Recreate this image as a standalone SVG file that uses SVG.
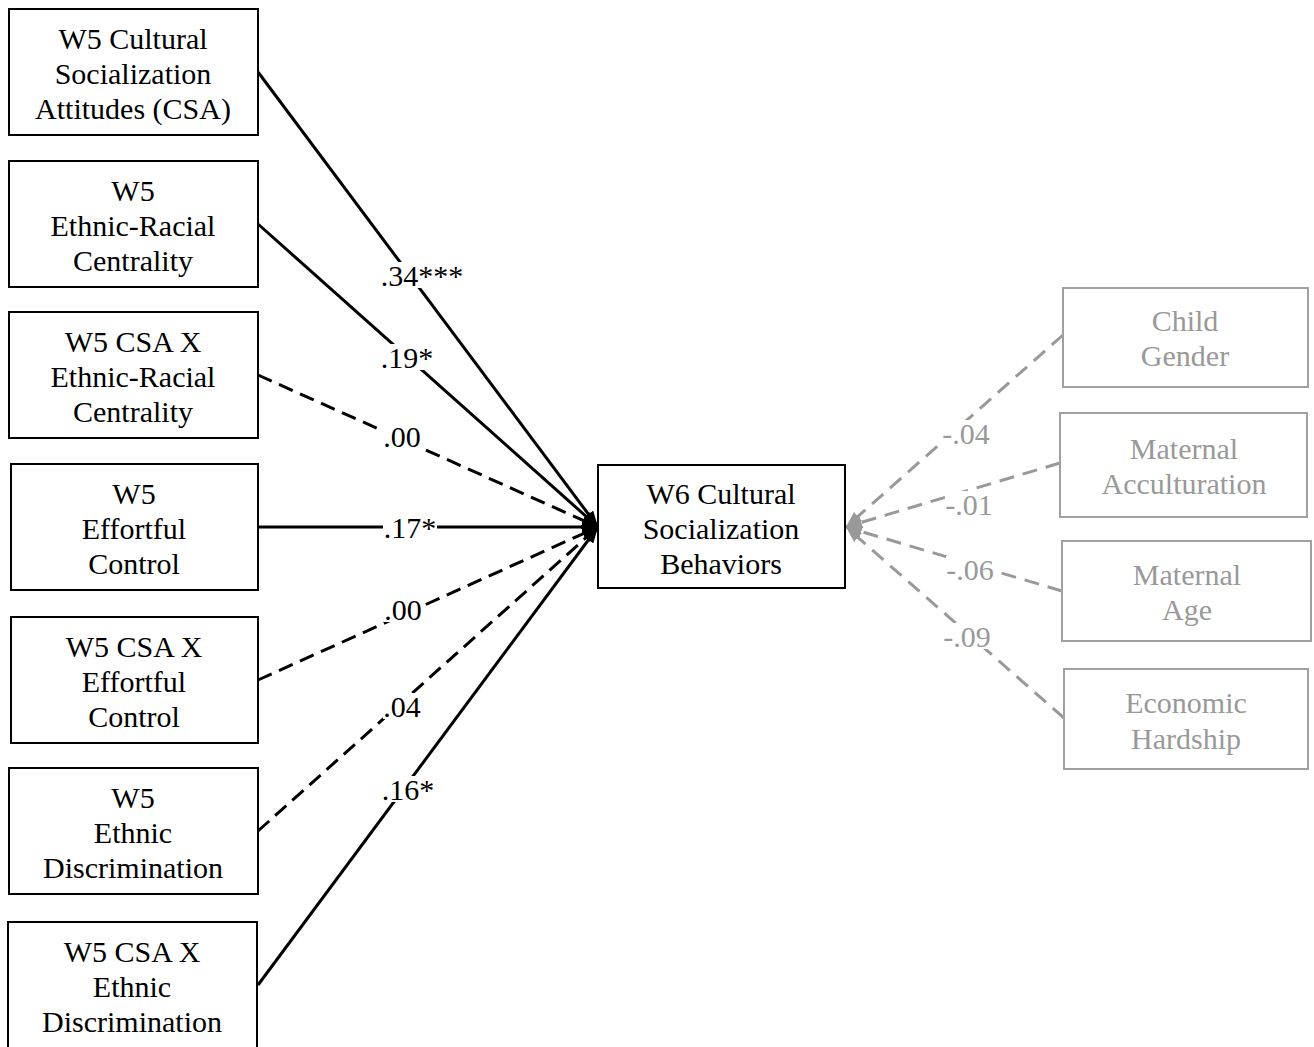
<svg xmlns="http://www.w3.org/2000/svg" width="1314" height="1047" viewBox="0 0 1314 1047">
<style>
.box{fill:#fff;stroke:#000;stroke-width:2px}
.gbox{fill:#fff;stroke:#a0a0a0;stroke-width:2px}
.t{font-family:"Liberation Serif","Times New Roman",serif;font-size:30px;text-anchor:middle;fill:#000}
.gt{font-family:"Liberation Serif","Times New Roman",serif;font-size:30px;text-anchor:middle;fill:#999}
.bg{fill:#fff;stroke:none}
.s{fill:none;stroke:#000;stroke-width:3px;marker-end:url(#ah)}
.d{fill:none;stroke:#000;stroke-width:3px;stroke-dasharray:15px 8px;marker-end:url(#ah)}
.g{fill:none;stroke:#999;stroke-width:3px;stroke-dasharray:15px 9px;marker-end:url(#gah)}
</style>
<defs>
<marker id="ah" viewBox="0 0 16 12" refX="16" refY="6" markerWidth="16" markerHeight="12" markerUnits="userSpaceOnUse" orient="auto">
<path d="M0,0 L16,6 L0,12 Z" fill="#000"/>
</marker>
<marker id="gah" viewBox="0 0 16 12" refX="16" refY="6" markerWidth="16" markerHeight="12" markerUnits="userSpaceOnUse" orient="auto">
<path d="M0,0 L16,6 L0,12 Z" fill="#999"/>
</marker>
</defs>
<rect width="1314" height="1047" fill="#fff"/>
<g id="connectors">
<line class="s" x1="258" y1="72" x2="598" y2="527"/>
<line class="s" x1="258" y1="224" x2="598" y2="527"/>
<line class="d" x1="258" y1="375" x2="598" y2="527"/>
<line class="s" x1="258" y1="527" x2="598" y2="527"/>
<line class="d" x1="258" y1="680" x2="598" y2="527"/>
<line class="d" x1="258" y1="831" x2="598" y2="527"/>
<line class="s" x1="258" y1="985" x2="598" y2="527"/>
<line class="g" x1="1063" y1="335" x2="846" y2="527"/>
<line class="g" x1="1060" y1="463" x2="846" y2="527"/>
<line class="g" x1="1062" y1="591" x2="846" y2="527"/>
<line class="g" x1="1064" y1="718" x2="846" y2="527"/>
<rect class="bg" x="380" y="262" width="84" height="26"/>
<rect class="bg" x="380" y="344" width="54" height="26"/>
<rect class="bg" x="383" y="423" width="38" height="26"/>
<rect class="bg" x="383" y="514" width="54" height="26"/>
<rect class="bg" x="384" y="596" width="38" height="26"/>
<rect class="bg" x="383" y="693" width="38" height="26"/>
<rect class="bg" x="381" y="776" width="54" height="26"/>
<rect class="bg" x="942" y="420" width="48" height="26"/>
<rect class="bg" x="945" y="491" width="48" height="26"/>
<rect class="bg" x="946" y="556" width="48" height="26"/>
<rect class="bg" x="943" y="623" width="48" height="26"/>
<text class="t" x="422" y="286">.34***</text>
<text class="t" x="407" y="368">.19*</text>
<text class="t" x="402" y="447">.00</text>
<text class="t" x="410" y="538">.17*</text>
<text class="t" x="403" y="620">.00</text>
<text class="t" x="402" y="717">.04</text>
<text class="t" x="408" y="800">.16*</text>
<text class="gt" x="966" y="444">-.04</text>
<text class="gt" x="969" y="515">-.01</text>
<text class="gt" x="970" y="580">-.06</text>
<text class="gt" x="967" y="647">-.09</text>
</g>
<g id="n1"><rect class="box" x="9" y="9" width="249" height="126"/>
<text class="t" x="133" y="49">W5 Cultural</text><text class="t" x="133" y="84">Socialization</text><text class="t" x="133" y="119">Attitudes (CSA)</text></g>
<g id="n2"><rect class="box" x="9" y="161" width="249" height="126"/>
<text class="t" x="133" y="201">W5</text><text class="t" x="133" y="236">Ethnic-Racial</text><text class="t" x="133" y="271">Centrality</text></g>
<g id="n3"><rect class="box" x="9" y="312" width="249" height="126"/>
<text class="t" x="133" y="352">W5 CSA X</text><text class="t" x="133" y="387">Ethnic-Racial</text><text class="t" x="133" y="422">Centrality</text></g>
<g id="n4"><rect class="box" x="11" y="464" width="247" height="126"/>
<text class="t" x="134" y="504">W5</text><text class="t" x="134" y="539">Effortful</text><text class="t" x="134" y="574">Control</text></g>
<g id="n5"><rect class="box" x="11" y="617" width="247" height="126"/>
<text class="t" x="134" y="657">W5 CSA X</text><text class="t" x="134" y="692">Effortful</text><text class="t" x="134" y="727">Control</text></g>
<g id="n6"><rect class="box" x="9" y="768" width="249" height="126"/>
<text class="t" x="133" y="808">W5</text><text class="t" x="133" y="843">Ethnic</text><text class="t" x="133" y="878">Discrimination</text></g>
<g id="n7"><rect class="box" x="8" y="922" width="249" height="130"/>
<text class="t" x="132" y="962">W5 CSA X</text><text class="t" x="132" y="997">Ethnic</text><text class="t" x="132" y="1032">Discrimination</text></g>
<g id="n8"><rect class="box" x="598" y="465" width="247" height="123"/>
<text class="t" x="721" y="504">W6 Cultural</text><text class="t" x="721" y="539">Socialization</text><text class="t" x="721" y="574">Behaviors</text></g>
<g id="n9"><rect class="gbox" x="1063" y="288" width="245" height="99"/>
<text class="gt" x="1185" y="331">Child</text><text class="gt" x="1185" y="366">Gender</text></g>
<g id="n10"><rect class="gbox" x="1060" y="413" width="247" height="104"/>
<text class="gt" x="1184" y="459">Maternal</text><text class="gt" x="1184" y="494">Acculturation</text></g>
<g id="n11"><rect class="gbox" x="1062" y="541" width="249" height="100"/>
<text class="gt" x="1187" y="585">Maternal</text><text class="gt" x="1187" y="620">Age</text></g>
<g id="n12"><rect class="gbox" x="1064" y="669" width="244" height="100"/>
<text class="gt" x="1186" y="713">Economic</text><text class="gt" x="1186" y="749">Hardship</text></g>
</svg>
